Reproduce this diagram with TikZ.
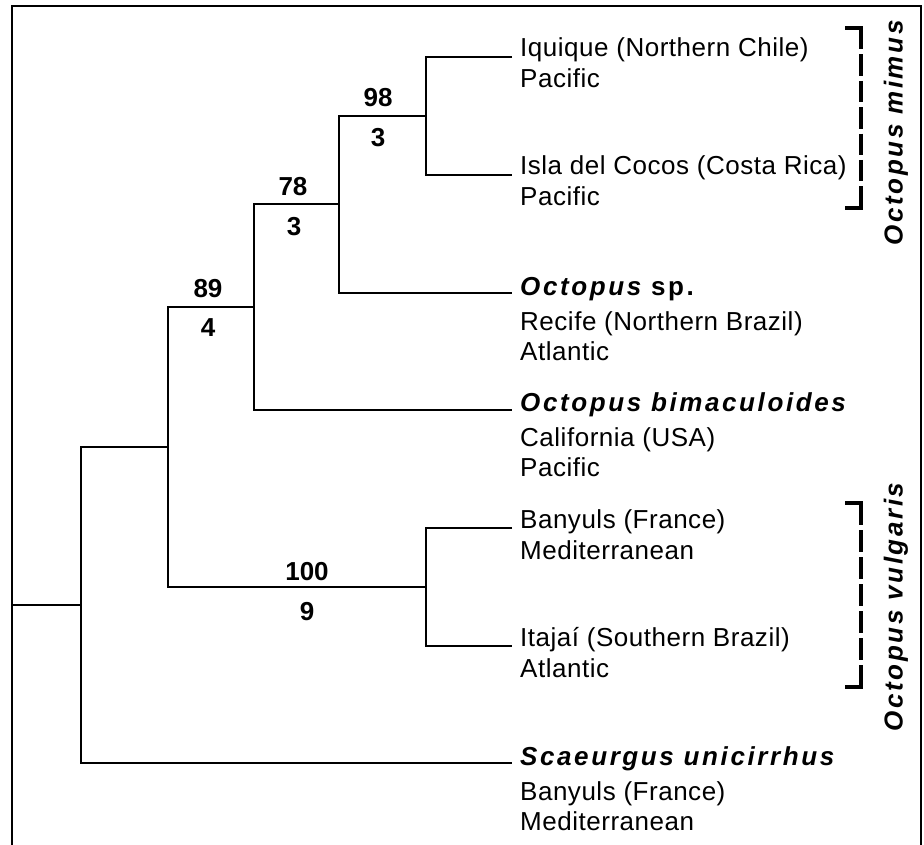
\documentclass[tikz,border=0pt]{standalone}
\usepackage{fontspec}
\setmainfont{Liberation Sans}
\newfontfamily\spfont[LetterSpace=10]{Liberation Sans}
\newfontfamily\locfont[LetterSpace=2]{Liberation Sans}
\begin{document}
\begin{tikzpicture}[x=1pt,y=-1pt,
  tree/.style={line width=1.8pt, line join=miter},
  brk/.style={line width=3.4pt},
  frm/.style={line width=2pt},
  txt/.style={anchor=base west, inner sep=0pt, font=\fontsize{26}{31}\selectfont\locfont},
  sptxt/.style={anchor=base west, inner sep=0pt, font=\fontsize{26}{31}\selectfont\spfont\bfseries},
  num/.style={inner sep=0pt, font=\fontsize{26}{31}\selectfont\bfseries},
  lab/.style={inner sep=0pt, rotate=90, font=\fontsize{26}{31}\selectfont\spfont\bfseries\itshape}]
\useasboundingbox (0,0) rectangle (924,845);
% frame
\coordinate (f1) at (12,845); \coordinate (f2) at (12,6);
\coordinate (f3) at (921,6); \coordinate (f4) at (921,845);
\draw[frm] (f1) -- (f2) -- (f3) -- (f4);
% leaves
\coordinate (L1) at (512,57);
\coordinate (L2) at (512,175);
\coordinate (L3) at (512,293);
\coordinate (L4) at (512,410);
\coordinate (L5) at (512,528);
\coordinate (L6) at (512,646);
\coordinate (L7) at (512,763);
% internal nodes
\coordinate (N98) at (426,116);
\coordinate (N78) at (339,204);
\coordinate (N89) at (254,307);
\coordinate (N100) at (426,587);
\coordinate (NA) at (168,447);
\coordinate (R) at (81,605);
\coordinate (R0) at (12,605);
% tree
\draw[tree] (L1) -| (N98) |- (L2);
\draw[tree] (N98) -| (N78) |- (L3);
\draw[tree] (N78) -| (N89) |- (L4);
\draw[tree] (L5) -| (N100) |- (L6);
\draw[tree] (N89) -| (NA) |- (N100);
\draw[tree] (NA) -| (R) |- (L7);
\draw[tree] (R) -- (R0);
% support values
\node[num] (a98) at (378,98) {98};
\node[num] (b98) at (378,138) {3};
\node[num] (a78) at (293,187) {78};
\node[num] (b78) at (294,227) {3};
\node[num] (a89) at (208,289) {89};
\node[num] (b89) at (208,328) {4};
\node[num] (a100) at (307,572) {100};
\node[num] (b100) at (307,612) {9};
% leaf texts
\node[txt] (t1a) at (520,57) {Iquique (Northern Chile)};
\node[txt] (t1b) at (520,88) {Pacific};
\node[txt] (t2a) at (520,175) {Isla del Cocos (Costa Rica)};
\node[txt] (t2b) at (520,206) {Pacific};
\node[sptxt] (t3a) at (520,295) {\itshape Octopus\upshape\ sp.};
\node[txt] (t3b) at (520,330) {Recife (Northern Brazil)};
\node[txt] (t3c) at (520,360) {Atlantic};
\node[sptxt] (t4a) at (520,411) {\itshape Octopus bimaculoides};
\node[txt] (t4b) at (520,446) {California (USA)};
\node[txt] (t4c) at (520,476) {Pacific};
\node[txt] (t5a) at (520,528) {Banyuls (France)};
\node[txt] (t5b) at (520,559) {Mediterranean};
\node[txt] (t6a) at (520,646) {Itaja\'{\i} (Southern Brazil)};
\node[txt] (t6b) at (520,677) {Atlantic};
\node[sptxt] (t7a) at (520,765) {\itshape Scaeurgus unicirrhus};
\node[txt] (t7b) at (520,800) {Banyuls (France)};
\node[txt] (t7c) at (520,830) {Mediterranean};
% brackets
\coordinate (m1) at (845,28); \coordinate (m2) at (861,28);
\coordinate (m3) at (861,208); \coordinate (m4) at (845,208);
\draw[brk, dash pattern=on 21.4pt off 5pt] (m2) -- (m3);
\draw[brk] (m1) -- (m2) -- ([yshift=-15pt]m2);
\draw[brk] (m4) -- (m3) -- ([yshift=15pt]m3);
\coordinate (v1) at (845,503); \coordinate (v2) at (861,503);
\coordinate (v3) at (861,687); \coordinate (v4) at (845,687);
\draw[brk, dash pattern=on 22pt off 5pt] (v2) -- (v3);
\draw[brk] (v1) -- (v2) -- ([yshift=-15pt]v2);
\draw[brk] (v4) -- (v3) -- ([yshift=15pt]v3);
\node[lab] (mimus) at (896,133) {Octopus mimus};
\node[lab] (vulg) at (896,607) {Octopus vulgaris};
\end{tikzpicture}
\end{document}
